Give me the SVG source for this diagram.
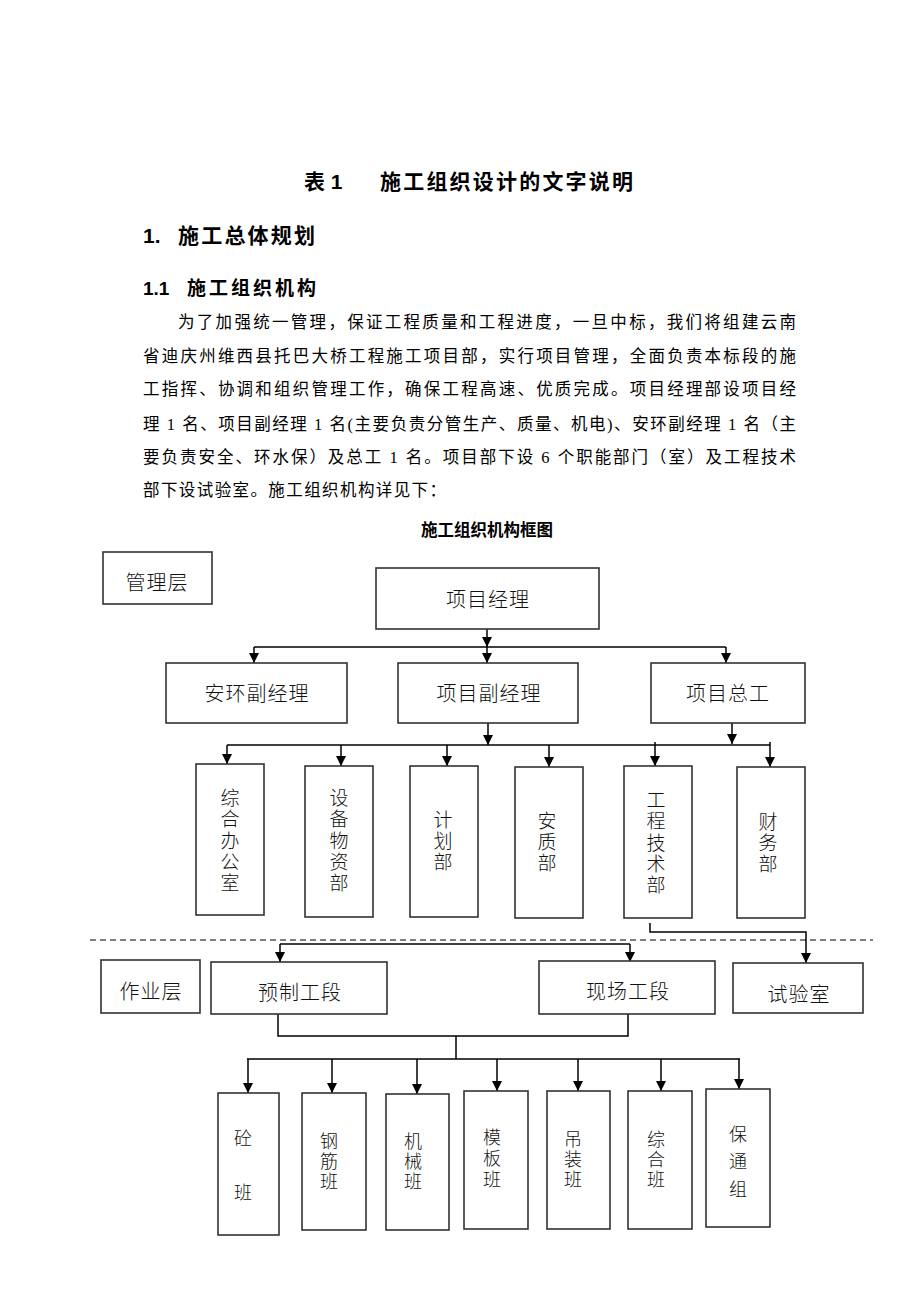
<svg xmlns="http://www.w3.org/2000/svg" width="920" height="1302" viewBox="0 0 920 1302">
<style>
.h{font-family:"Liberation Sans","Noto Sans CJK SC",sans-serif;font-weight:bold;fill:#000}
.p{font-family:"Liberation Serif","Noto Sans CJK SC",serif;font-size:16.5px;fill:#000}
.t{font-family:"Noto Sans CJK SC",sans-serif;font-size:20px;font-weight:300;fill:#111}
.v{font-family:"Noto Sans CJK SC",sans-serif;font-size:19px;font-weight:300;fill:#111;writing-mode:vertical-rl;text-orientation:upright}
.w{font-family:"Noto Sans CJK SC",sans-serif;font-size:18px;font-weight:300;fill:#111;writing-mode:vertical-rl;text-orientation:upright}
.b{fill:#fff;stroke:#333;stroke-width:1.6}
.c{fill:none;stroke:#000;stroke-width:1.5}
.a{fill:none;stroke:#000;stroke-width:1.5;marker-end:url(#ah)}
</style>
<defs>
<marker id="ah" markerUnits="userSpaceOnUse" markerWidth="10" markerHeight="11" refX="10" refY="5" orient="auto" viewBox="0 0 10 10">
<path d="M0,0 L10,5 L0,10 z" fill="#000"/>
</marker>
</defs>
<rect width="920" height="1302" fill="#fff"/>
<g id="heading">
<text class="h" x="304" y="189" font-size="21">表 1</text>
<text class="h" x="380" y="189" font-size="21" textLength="253" lengthAdjust="spacing">施工组织设计的文字说明</text>
<text class="h" x="143" y="243" font-size="21">1.</text>
<text class="h" x="178" y="243" font-size="21" textLength="137" lengthAdjust="spacing">施工总体规划</text>
<text class="h" x="143" y="295" font-size="19">1.1</text>
<text class="h" x="187" y="295" font-size="19" textLength="129" lengthAdjust="spacing">施工组织机构</text>
</g>
<g id="paragraph">
<text class="p" x="178" y="328" textLength="618" lengthAdjust="spacing">为了加强统一管理，保证工程质量和工程进度，一旦中标，我们将组建云南</text>
<text class="p" x="143" y="362" textLength="653" lengthAdjust="spacing">省迪庆州维西县托巴大桥工程施工项目部，实行项目管理，全面负责本标段的施</text>
<text class="p" x="143" y="395" textLength="653" lengthAdjust="spacing">工指挥、协调和组织管理工作，确保工程高速、优质完成。项目经理部设项目经</text>
<text class="p" x="143" y="430" textLength="653" lengthAdjust="spacing">理 1 名、项目副经理 1 名(主要负责分管生产、质量、机电)、安环副经理 1 名（主</text>
<text class="p" x="143" y="463" textLength="653" lengthAdjust="spacing">要负责安全、环水保）及总工 1 名。项目部下设 6 个职能部门（室）及工程技术</text>
<text class="p" x="143" y="496" textLength="303" lengthAdjust="spacing">部下设试验室。施工组织机构详见下：</text>
<text class="h" x="487" y="536" font-size="16.5" text-anchor="middle">施工组织机构框图</text>
</g>
<g id="connectors">
<path class="a" d="M487,629 V647"/>
<path class="a" d="M487,647 V663"/>
<path class="c" d="M254,647 H726"/>
<path class="a" d="M254,647 V663"/>
<path class="a" d="M726,647 V663"/>
<path class="a" d="M488,723 V745"/>
<path class="a" d="M732,723 V744"/>
<path class="c" d="M227,745 H770"/>
<path class="a" d="M227,745 V764"/>
<path class="a" d="M341,745 V766"/>
<path class="a" d="M447,745 V766"/>
<path class="a" d="M549,745 V767"/>
<path class="a" d="M655,742 V766"/>
<path class="a" d="M770,742 V767"/>
<path class="a" d="M650,923 V932 H806 V963"/>
<path d="M90,940 H873" fill="none" stroke="#000" stroke-width="1.2" stroke-dasharray="6,4"/>
<path class="c" d="M280,944 H630"/>
<path class="a" d="M280,944 V962"/>
<path class="a" d="M630,944 V962"/>
<path class="c" d="M278,1014 V1036 H628 V1014"/>
<path class="c" d="M456,1036 V1059"/>
<path class="c" d="M247,1059 H740"/>
<path class="a" d="M248,1059 V1093"/>
<path class="a" d="M332,1059 V1093"/>
<path class="a" d="M417,1059 V1094"/>
<path class="a" d="M497,1059 V1091"/>
<path class="a" d="M578,1059 V1091"/>
<path class="a" d="M661,1059 V1091"/>
<path class="a" d="M739,1059 V1089"/>
</g>
<g id="n-guanliceng"><rect class="b" x="103" y="552" width="109" height="52"/><text class="t" x="157" y="590" text-anchor="middle" letter-spacing="1">管理层</text></g>
<g id="n-xiangmujingli"><rect class="b" x="376" y="568" width="223" height="61"/><text class="t" x="488" y="607" text-anchor="middle" letter-spacing="1">项目经理</text></g>
<g id="n-anhuanfujingli"><rect class="b" x="166" y="663" width="181" height="60"/><text class="t" x="257" y="701" text-anchor="middle" letter-spacing="1">安环副经理</text></g>
<g id="n-xiangmufujingli"><rect class="b" x="398" y="663" width="180" height="60"/><text class="t" x="489" y="701" text-anchor="middle" letter-spacing="1">项目副经理</text></g>
<g id="n-xiangmuzonggong"><rect class="b" x="651" y="663" width="154" height="60"/><text class="t" x="728" y="701" text-anchor="middle" letter-spacing="1">项目总工</text></g>
<g id="n-zonghebangongshi"><rect class="b" x="196" y="764" width="68" height="151"/><text class="v" x="230" y="788.5" letter-spacing="2.25">综合办公室</text></g>
<g id="n-shebeiwuzibu"><rect class="b" x="305" y="766" width="68" height="151"/><text class="v" x="339" y="788.5" letter-spacing="2.25">设备物资部</text></g>
<g id="n-jihuabu"><rect class="b" x="410" y="766" width="68" height="151"/><text class="v" x="443" y="810.5" letter-spacing="2">计划部</text></g>
<g id="n-anzhibu"><rect class="b" x="515" y="767" width="68" height="151"/><text class="v" x="547" y="811.5" letter-spacing="2">安质部</text></g>
<g id="n-gongchengjishubu"><rect class="b" x="624" y="766" width="68" height="152"/><text class="v" x="656" y="790.5" letter-spacing="2.25">工程技术部</text></g>
<g id="n-caiwubu"><rect class="b" x="737" y="767" width="68" height="151"/><text class="v" x="768" y="812.5" letter-spacing="2">财务部</text></g>
<g id="n-zuoyeceng"><rect class="b" x="101" y="960" width="99" height="53"/><text class="t" x="151" y="999" text-anchor="middle" letter-spacing="1">作业层</text></g>
<g id="n-yuzhigongduan"><rect class="b" x="211" y="962" width="176" height="52"/><text class="t" x="300" y="1000" text-anchor="middle" letter-spacing="1">预制工段</text></g>
<g id="n-xianchanggongduan"><rect class="b" x="539" y="961" width="176" height="53"/><text class="t" x="628" y="999" text-anchor="middle" letter-spacing="1">现场工段</text></g>
<g id="n-shiyanshi"><rect class="b" x="733" y="963" width="130" height="50"/><text class="t" x="799" y="1002" text-anchor="middle" letter-spacing="1">试验室</text></g>
<g id="n-tongban"><rect class="b" x="218" y="1093" width="61" height="142"/><text class="w" x="243" y="1129" letter-spacing="36">砼班</text></g>
<g id="n-gangjinban"><rect class="b" x="302" y="1093" width="64" height="137"/><text class="w" x="329" y="1132" letter-spacing="2">钢筋班</text></g>
<g id="n-jixieban"><rect class="b" x="386" y="1094" width="63" height="136"/><text class="w" x="413" y="1132" letter-spacing="2">机械班</text></g>
<g id="n-mubanban"><rect class="b" x="464" y="1091" width="64" height="138"/><text class="w" x="492" y="1128" letter-spacing="3">模板班</text></g>
<g id="n-diaozhuangban"><rect class="b" x="547" y="1091" width="63" height="138"/><text class="w" x="573" y="1130" letter-spacing="2">吊装班</text></g>
<g id="n-zongheban"><rect class="b" x="628" y="1091" width="64" height="138"/><text class="w" x="656" y="1130" letter-spacing="2">综合班</text></g>
<g id="n-baotongzu"><rect class="b" x="706" y="1089" width="64" height="138"/><text class="w" x="738" y="1125" letter-spacing="9.5">保通组</text></g>
</svg>
